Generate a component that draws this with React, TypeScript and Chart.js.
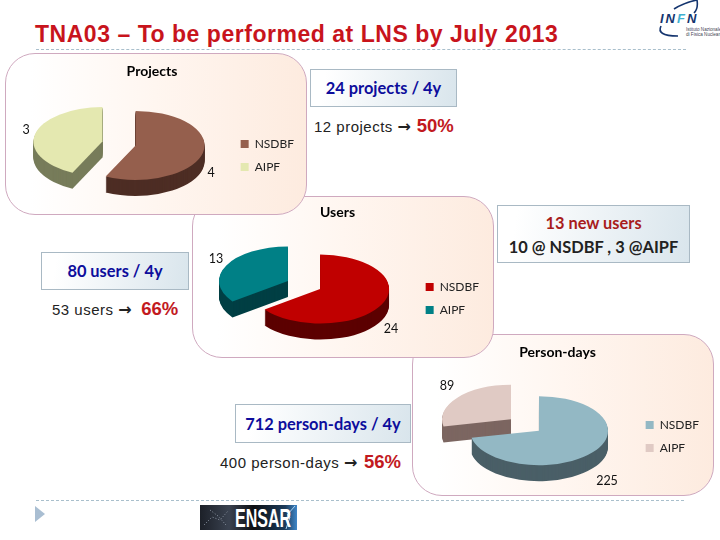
import React, { useEffect, useRef } from "react";
import { Chart, registerables } from "chart.js";

Chart.register(...registerables);

const categories = ["NSDBF", "AIPF"];
const projectsValues = [4, 3];
const usersValues = [24, 13];
const personDaysValues = [225, 89];

const projectsColors = ["#955f4d", "#e4e8b0"];
const projectsSides = ["#4d2d24", "#777c5a"];
const usersColors = ["#c00000", "#008086"];
const usersSides = ["#5c0000", "#003f44"];
const personColors = ["#93b8c4", "#e0cac4"];
const personSides = ["#4a5f67", "#7c6661"];

const FONT = "Lato";
const SANS = "'Liberation Sans'";
const NAVY = "#0d0d9c";
const RED = "#c21a1f";

type PieProps = {
  title: string;
  values: number[];
  colors: string[];
  sides: string[];
  left: number;
  top: number;
  z: number;
  cx: number;
  cy: number;
  explode: number;
  labels: number[][];
  padL: number;
  padR: number;
  titleTop: number;
};

const PW = 302;
const PH = 162;

function Pie({ title, values, colors, sides, left, top, z, cx, cy, explode, labels, padL, padR, titleTop }: PieProps) {
  const ref = useRef<HTMLCanvasElement>(null);
  useEffect(() => {
    const squash = 0.5;
    const depth = 16;
    const pie3d = {
      id: "pie3d",
      beforeDatasetDraw(chart: any, args: any) {
        const ctx = chart.ctx;
        const arcs = args.meta.data;
        ctx.save();
        ctx.translate(cx - left, cy - top);
        ctx.scale(1, squash);
        ctx.translate(-arcs[0].x, -arcs[0].y);
        for (let i = arcs.length - 1; i >= 0; i--) {
          const arc = arcs[i];
          const base = arc.options;
          const mid = (arc.startAngle + arc.endAngle) / 2;
          ctx.save();
          ctx.translate(Math.cos(mid) * explode, Math.sin(mid) * explode);
          arc.options = Object.assign(Object.create(base), { backgroundColor: sides[i] });
          for (let d = depth; d >= 1; d--) {
            ctx.save();
            ctx.translate(0, d / squash);
            arc.draw(ctx);
            ctx.restore();
          }
          arc.options = base;
          ctx.save();
          arc.draw(ctx);
          ctx.restore();
          ctx.restore();
        }
        ctx.restore();
        return false;
      },
      afterDatasetsDraw(chart: any) {
        const ctx = chart.ctx;
        ctx.save();
        ctx.font = `12.5px ${FONT}`;
        ctx.fillStyle = "#111";
        ctx.textAlign = "center";
        ctx.textBaseline = "middle";
        values.forEach((v, i) => {
          ctx.fillText(String(v), labels[i][0] - left, labels[i][1] - top);
        });
        ctx.restore();
      },
    };
    const chart = new Chart(ref.current as HTMLCanvasElement, {
      type: "pie",
      data: {
        labels: categories,
        datasets: [
          {
            data: values,
            backgroundColor: colors,
            borderWidth: 0,
            clip: false,
          } as any,
        ],
      },
      options: {
        animation: false,
        responsive: false,
        events: [],
        radius: 69,
        layout: { padding: { left: padL, right: padR, top: 0, bottom: 31 } },
        plugins: {
          tooltip: { enabled: false },
          title: {
            display: true,
            text: title,
            color: "#000",
            font: { family: FONT, size: 14, weight: "bold" },
            padding: { top: titleTop, bottom: 8 },
          },
          legend: {
            position: "right",
            align: "end",
            labels: {
              boxWidth: 8,
              boxHeight: 8,
              padding: 11,
              color: "#222",
              font: { family: FONT, size: 12 },
            },
          },
        },
      } as any,
      plugins: [pie3d as any],
    });
    return () => chart.destroy();
  }, []);
  return (
    <div
      style={{
        position: "absolute",
        left,
        top,
        width: PW,
        height: PH,
        zIndex: z,
        boxSizing: "border-box",
        border: "1px solid #cfa9bf",
        borderRadius: 30,
        background: "linear-gradient(90deg,#ffffff 8%,#fff6f0 50%,#fdebdf 100%)",
      }}
    >
      <canvas
        ref={ref}
        width={PW}
        height={PH}
        style={{ position: "absolute", left: -1, top: -1, width: PW, height: PH }}
      />
    </div>
  );
}

function Box({ left, top, w, h, z = 5, children }: any) {
  return (
    <div
      style={{
        position: "absolute",
        left,
        top,
        width: w,
        height: h,
        boxSizing: "border-box",
        zIndex: z,
        border: "1px solid #a9b9c4",
        background: "linear-gradient(100deg,#ffffff 10%,#d9e5ec 100%)",
        display: "flex",
        flexDirection: "column",
        alignItems: "center",
        justifyContent: "center",
        fontFamily: FONT,
        fontWeight: 700,
        fontSize: 16.4,
        color: NAVY,
        lineHeight: "24px",
        whiteSpace: "nowrap",
      }}
    >
      {children}
    </div>
  );
}

function Share({ left, top, text, pct, gap = 0 }: any) {
  return (
    <div
      style={{
        position: "absolute",
        left,
        top,
        zIndex: 6,
        fontFamily: SANS,
        fontSize: 15,
        letterSpacing: 0.5,
        lineHeight: "20px",
        color: "#222",
        whiteSpace: "nowrap",
      }}
    >
      {text} <span style={{ fontFamily: "'DejaVu Sans'", fontWeight: 700, fontSize: 16, letterSpacing: 0 }}>→</span>{" "}
      <span style={{ fontWeight: 700, fontSize: 18.5, color: RED, letterSpacing: 0, marginLeft: gap }}>{pct}</span>
    </div>
  );
}

export default function App() {
  return (
    <div style={{ position: "absolute", left: 0, top: 0, width: 720, height: 540, background: "#fff", overflow: "hidden" }}>
      <div
        style={{
          position: "absolute",
          left: 35,
          top: 21,
          fontFamily: SANS,
          fontWeight: 700,
          fontSize: 23,
          letterSpacing: 0.53,
          lineHeight: "26px",
          color: "#c8141c",
          whiteSpace: "nowrap",
        }}
      >
        TNA03 – To be performed at LNS by July 2013
      </div>
      <div style={{ position: "absolute", left: 36, top: 49, width: 650, borderTop: "1px dashed #a9bfcc" }} />
      <div style={{ position: "absolute", left: 36, top: 500, width: 648, borderTop: "1px dashed #a9bfcc" }} />

      <Pie title="Projects" values={projectsValues} colors={projectsColors} sides={projectsSides}
        left={5} top={53} z={3} cx={119} cy={143.5} explode={17} labels={[[211, 173], [26, 130]]} padL={-5} padR={3} titleTop={10} />
      <Pie title="Users" values={usersValues} colors={usersColors} sides={usersSides}
        left={192} top={196} z={2} cx={304} cy={285} explode={18} labels={[[391, 329], [216, 259]]} padL={-6} padR={5} titleTop={8} />
      <Pie title="Person-days" values={personDaysValues} colors={personColors} sides={personSides}
        left={412} top={334} z={1} cx={525} cy={425} explode={18} labels={[[607, 481], [447, 386]]} padL={-6} padR={5} titleTop={10} />

      <Box left={310} top={69} w={147} h={38}>24 projects / 4y</Box>
      <Share left={314} top={116} text="12 projects" pct="50%" gap={1} />

      <Box left={497} top={205} w={193} h={58}>
        <span style={{ color: "#a81c1c", paddingTop: 2 }}>13 new users</span>
        <span style={{ color: "#222" }}>10 @ NSDBF , 3 @AIPF</span>
      </Box>

      <Box left={41} top={252} w={148} h={38}>80 users / 4y</Box>
      <Share left={52} top={299} text="53 users" pct="66%" gap={5} />

      <Box left={235} top={404} w={176} h={39}>712 person-days / 4y</Box>
      <Share left={220} top={452} text="400 person-days" pct="56%" gap={2} />

      <svg width={12} height={18} style={{ position: "absolute", left: 35, top: 506 }}>
        <polygon points="0,0 10,8 0,16" fill="#a9bed2" />
      </svg>

      <svg width={97} height={25} style={{ position: "absolute", left: 200, top: 505 }}>
        <defs>
          <linearGradient id="ens" x1="0" x2="1" y1="0" y2="0">
            <stop offset="0" stopColor="#1c2028" />
            <stop offset="0.3" stopColor="#3a4250" />
            <stop offset="0.55" stopColor="#0c0e12" />
            <stop offset="0.88" stopColor="#1c3c5c" />
            <stop offset="1" stopColor="#3f86c8" />
          </linearGradient>
        </defs>
        <rect width={97} height={25} fill="url(#ens)" />
        <path d="M 4 20 L 12 12 L 20 15 L 28 6 M 10 5 L 18 11 L 26 20" fill="none" stroke="#8f98a6" strokeWidth={1} strokeDasharray="1 2" />
        <path d="M 86 24 L 90 12 L 87 10 L 95 1" fill="none" stroke="#a8d4f4" strokeWidth={1} />
        <text x={35} y={22} fontFamily={SANS} fontWeight={700} fontSize={26} textLength={56} lengthAdjust="spacingAndGlyphs" fill="#fff">
          ENSAR
        </text>
      </svg>

      <svg width={70} height={44} style={{ position: "absolute", left: 650, top: 0 }}>
        <path d="M 24 9 C 32 4, 42 1, 47 0 C 48 6, 46 11, 44 13" fill="none" stroke="#14346e" strokeWidth={1.6} />
        <path d="M 11 26 C 8 32, 12 36, 28 36" fill="none" stroke="#14346e" strokeWidth={1.6} />
        <text x={10} y={23} fontFamily={SANS} fontWeight={700} fontStyle="italic" fontSize={13} letterSpacing={2} fill="#14346e">
          IN<tspan fill="#3fb0d0">F</tspan>N
        </text>
        <text x={36} y={31} fontFamily={SANS} fontSize={4.6} fill="#445">Istituto Nazionale</text>
        <text x={36} y={36} fontFamily={SANS} fontSize={4.6} fill="#445">di Fisica Nucleare</text>
      </svg>
    </div>
  );
}
